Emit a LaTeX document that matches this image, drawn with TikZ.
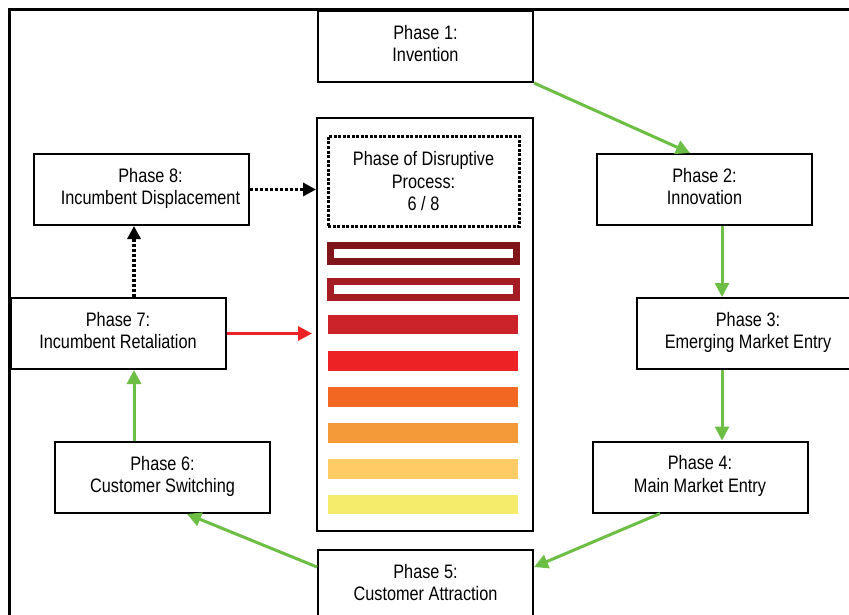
\documentclass[tikz,border=0pt]{standalone}
\usepackage{fontspec}
\setmainfont{Liberation Sans}[FakeStretch=0.835]
\usetikzlibrary{arrows.meta}

\definecolor{flowgreen}{RGB}{108,190,69}
\definecolor{flowred}{RGB}{237,34,36}
\definecolor{barA}{RGB}{127,21,24}
\definecolor{barB}{RGB}{165,28,36}
\definecolor{barC}{RGB}{204,34,41}
\definecolor{barD}{RGB}{237,34,36}
\definecolor{barE}{RGB}{242,103,34}
\definecolor{barF}{RGB}{245,154,56}
\definecolor{barG}{RGB}{254,203,100}
\definecolor{barH}{RGB}{245,236,107}

% extra depth under the last line lifts the text a little inside its box
\newcommand\tailpad{\rule[-6pt]{0pt}{6pt}}

\tikzset{
  phasebox/.style={draw=black, line width=2pt, fill=white,
    minimum width=215pt, minimum height=71pt, inner sep=0pt,
    align=center, font=\fontsize{19.5}{22.5}\selectfont},
  greenflow/.style={draw=flowgreen, line width=3pt,
    -{Triangle[length=14pt,width=14pt]}},
  redflow/.style={draw=flowred, line width=3pt,
    -{Triangle[length=14pt,width=14pt]}},
  dotflow/.style={draw=black, line width=3.5pt, dash pattern=on 3pt off 2pt,
    -{Triangle[length=13pt,width=13pt]}},
  solidbar/.style={minimum width=190pt, minimum height=19.5pt, inner sep=0pt},
  openbar/.style={fill=white, line width=7pt, minimum width=186pt,
    minimum height=16pt, inner sep=0pt},
}

\begin{document}
\begin{tikzpicture}[x=1pt,y=-1pt]
  \useasboundingbox (0,0) rectangle (849,615);

  % frame
  \draw[line width=3pt] (9,615) -- (9,10) -- (849,10);

  % central gauge panel
  \node[draw=black, line width=2pt, fill=white, minimum width=216pt,
        minimum height=413pt, inner sep=0pt] (cb) at (425,324.5) {};
  \node[draw=black, line width=3pt, dash pattern=on 3pt off 1.5pt,
        minimum width=191pt, minimum height=90pt, inner sep=0pt,
        align=center, font=\fontsize{19.5}{22.5}\selectfont]
        (status) at (423.5,181.5) {Phase of Disruptive\\Process:\\6 / 8};

  \node[openbar, draw=barA] (b1) at (423.5,253.5) {};
  \node[openbar, draw=barB] (b2) at (423.5,289.5) {};
  \node[solidbar, fill=barC] (b3) at (423,324.5) {};
  \node[solidbar, fill=barD] (b4) at (423,361) {};
  \node[solidbar, fill=barE] (b5) at (423,397) {};
  \node[solidbar, fill=barF] (b6) at (423,433) {};
  \node[solidbar, fill=barG] (b7) at (423,469) {};
  \node[solidbar, fill=barH] (b8) at (423,504.5) {};

  % phases
  \node[phasebox] (p1) at (425.5,46.5)  {Phase 1:\\Invention\tailpad};
  \node[phasebox] (p2) at (704.5,189.5) {Phase 2:\\Innovation\tailpad};
  \node[phasebox, minimum width=222pt] (p3) at (748,333.5)
        {Phase 3:\\Emerging Market Entry\tailpad};
  \node[phasebox] (p4) at (700,477)     {Phase 4:\\Main Market Entry\tailpad};
  \node[phasebox] (p5) at (425.5,585.5) {Phase 5:\\Customer Attraction\tailpad};
  \node[phasebox] (p6) at (162.5,477.5) {Phase 6:\\Customer Switching\tailpad};
  \node[phasebox] (p7) at (118,333.5)   {Phase 7:\\Incumbent Retaliation\tailpad};
  \node[phasebox] (p8) at (141,189.5)
        {\hspace*{19pt}Phase 8:\\\hspace*{19pt}Incumbent Displacement\tailpad};

  % cycle connectors
  \draw[greenflow] (p1.south east) -- ([xshift=-14.5pt]p2.north);
  \draw[greenflow] ([xshift=17.5pt]p2.south) -- ([xshift=-26pt]p3.north);
  \draw[greenflow] ([xshift=-26pt]p3.south) -- ([xshift=22pt]p4.north);
  \draw[greenflow] ([xshift=-40pt]p4.south) -- ([yshift=18.5pt]p5.east);
  \draw[greenflow] ([yshift=18.5pt]p5.west) -- ([xshift=24.5pt]p6.south);
  \draw[greenflow] ([xshift=-28.5pt]p6.north) -- ([xshift=16pt]p7.south);
  \draw[dotflow] ([xshift=16pt]p7.north) -- ([xshift=-7pt]p8.south);
  \draw[dotflow] (p8.east) -- (p8.east -| cb.west);
  \draw[redflow, shorten >=4pt] (p7.east) -- (p7.east -| cb.west);
\end{tikzpicture}
\end{document}
